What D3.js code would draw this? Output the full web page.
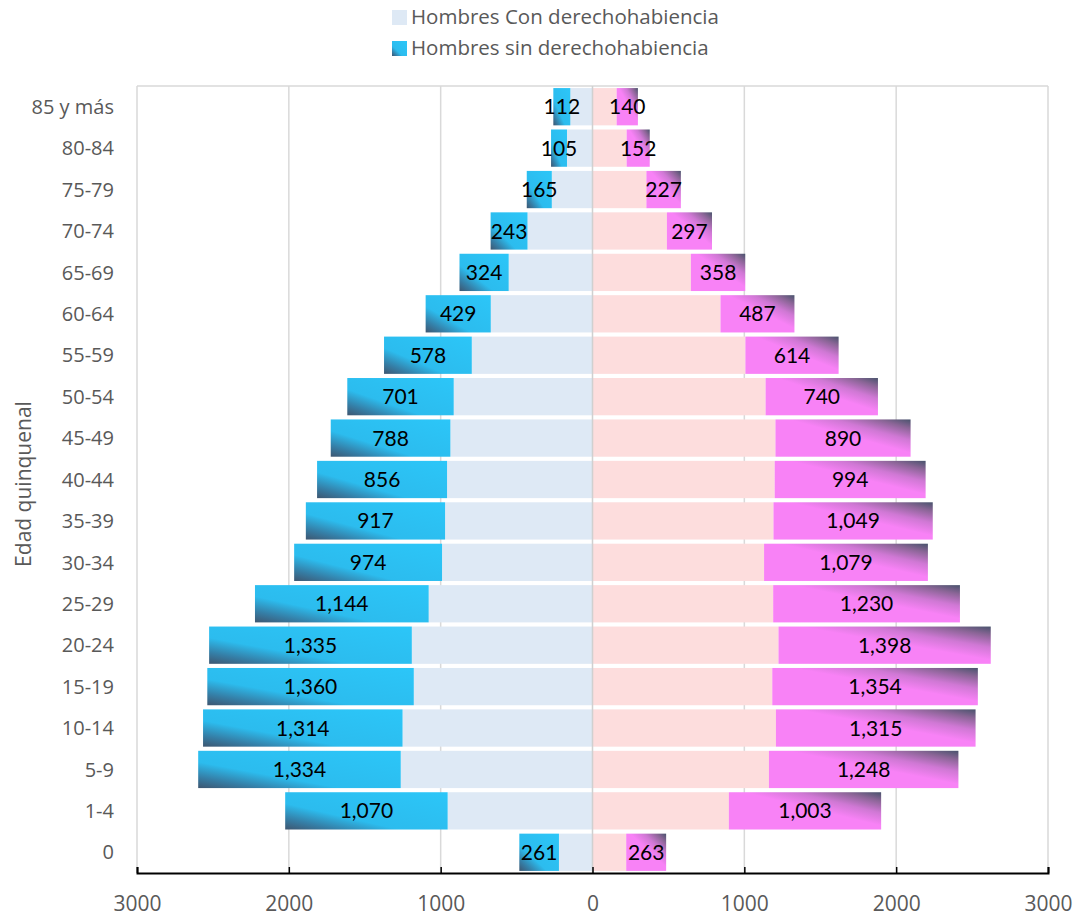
<!DOCTYPE html>
<html><head><meta charset="utf-8">
<script src="https://cdn.jsdelivr.net/npm/d3@7"></script>
<style>
html,body{margin:0;padding:0;background:#fff;}
svg{display:block;font-family:"Open Sans", sans-serif;}
</style></head>
<body><svg id="chart" width="1074" height="916"></svg>
<script>
const categories = ["85 y más","80-84","75-79","70-74","65-69","60-64","55-59","50-54","45-49","40-44","35-39","30-34","25-29","20-24","15-19","10-14","5-9","1-4","0"];
const hombresCon = [146,168,268,428,552,670,795,914,936,958,971,991,1079,1190,1177,1251,1263,954,221];
const hombresSin = [112,105,165,243,324,429,578,701,788,856,917,974,1144,1335,1360,1314,1334,1070,261];
const mujeresCon = [159,225,355,490,648,843,1007,1140,1205,1200,1192,1130,1190,1225,1184,1208,1162,898,222];
const mujeresSin = [140,152,227,297,358,487,614,740,890,994,1049,1079,1230,1398,1354,1315,1248,1003,263];
const xTicks = [-3000,-2000,-1000,0,1000,2000,3000];
const legendLabels = ["Hombres Con derechohabiencia","Hombres sin derechohabiencia"];
const yTitle = "Edad quinquenal";

const svg = d3.select("#chart");
const defs = svg.append("defs");
const gb = defs.append("linearGradient").attr("id","gBlue").attr("x1",0).attr("y1",1).attr("x2",1).attr("y2",0);
gb.append("stop").attr("offset",0).attr("stop-color","#3e5670");
gb.append("stop").attr("offset",0.15).attr("stop-color","#357ea6");
gb.append("stop").attr("offset",0.35).attr("stop-color","#2cbcee");
gb.append("stop").attr("offset",1).attr("stop-color","#2cc6f8");
const gp = defs.append("linearGradient").attr("id","gPink").attr("x1",1).attr("y1",0).attr("x2",0).attr("y2",1);
gp.append("stop").attr("offset",0).attr("stop-color","#48536c");
gp.append("stop").attr("offset",0.12).attr("stop-color","#8a6596");
gp.append("stop").attr("offset",0.28).attr("stop-color","#cf78d4");
gp.append("stop").attr("offset",0.45).attr("stop-color","#f882f6");
gp.append("stop").attr("offset",1).attr("stop-color","#f882f6");

const x = d3.scaleLinear().domain([-3000,3000]).range([137,1048]);
const y = d3.scaleBand().domain(categories).range([86,873]).paddingInner(0.1).paddingOuter(0.05);

// grid
svg.append("g").selectAll("line").data(xTicks.filter(d=>d!==0)).join("line")
  .attr("x1",d=>x(d)).attr("x2",d=>x(d)).attr("y1",86).attr("y2",873)
  .attr("stroke","#d9d9d9").attr("stroke-width",1.5);
svg.append("line").attr("x1",x(-3000)).attr("x2",x(3000)).attr("y1",86).attr("y2",86).attr("stroke","#d9d9d9").attr("stroke-width",1.5);

const rows = categories.map((c,i)=>({c,hc:hombresCon[i],hs:hombresSin[i],mc:mujeresCon[i],ms:mujeresSin[i]}));
const g = svg.append("g");
g.selectAll(".hc").data(rows).join("rect").attr("x",d=>x(-d.hc)).attr("width",d=>x(0)-x(-d.hc))
  .attr("y",d=>y(d.c)).attr("height",y.bandwidth()).attr("fill","#dee9f5");
g.selectAll(".hs").data(rows).join("rect").attr("x",d=>x(-d.hc-d.hs)).attr("width",d=>x(-d.hc)-x(-d.hc-d.hs))
  .attr("y",d=>y(d.c)).attr("height",y.bandwidth()).attr("fill","url(#gBlue)");
g.selectAll(".mc").data(rows).join("rect").attr("x",x(0)).attr("width",d=>x(d.mc)-x(0))
  .attr("y",d=>y(d.c)).attr("height",y.bandwidth()).attr("fill","#fddddd");
g.selectAll(".ms").data(rows).join("rect").attr("x",d=>x(d.mc)).attr("width",d=>x(d.mc+d.ms)-x(d.mc))
  .attr("y",d=>y(d.c)).attr("height",y.bandwidth()).attr("fill","url(#gPink)");

// center line
svg.append("line").attr("x1",x(0)).attr("x2",x(0)).attr("y1",86).attr("y2",873).attr("stroke","#d0d0d0").attr("stroke-width",1.5);

const fmt = d3.format(",");
g.selectAll(".lh").data(rows).join("text").attr("x",d=>x(-d.hc-d.hs/2)).attr("y",d=>y(d.c)+y.bandwidth()/2)
  .attr("dy","0.36em").attr("text-anchor","middle").attr("font-family","Lato, sans-serif").attr("font-size",21).attr("fill","#000").text(d=>fmt(d.hs));
g.selectAll(".lm").data(rows).join("text").attr("x",d=>x(d.mc+d.ms/2)).attr("y",d=>y(d.c)+y.bandwidth()/2)
  .attr("dy","0.36em").attr("text-anchor","middle").attr("font-family","Lato, sans-serif").attr("font-size",21).attr("fill","#000").text(d=>fmt(d.ms));

// x axis
const xa = svg.append("g").attr("transform","translate(0,873)")
  .call(d3.axisBottom(x).tickValues(xTicks).tickFormat(d=>Math.abs(d)).tickSizeInner(-6).tickSizeOuter(-6).tickPadding(23));
xa.select(".domain").attr("stroke","#000").attr("stroke-width",2);
xa.selectAll(".tick line").attr("stroke","#000").attr("stroke-width",1.5);
xa.selectAll("text").attr("font-size",21).attr("fill","#595959").attr("font-family","'Open Sans', sans-serif");

// y labels
svg.append("g").selectAll("text").data(categories).join("text")
  .attr("x",114).attr("y",d=>y(d)+y.bandwidth()/2).attr("dy","0.36em").attr("text-anchor","end")
  .attr("font-size",20).attr("fill","#595959").text(d=>d);

svg.append("text").attr("transform","translate(31,484) rotate(-90)").attr("text-anchor","middle")
  .attr("font-size",21).attr("fill","#595959").text(yTitle);

// legend
const lg = svg.append("g");
const fills = ["#dee9f5","url(#gBlue)"];
legendLabels.forEach((t,i)=>{
  lg.append("rect").attr("x",392).attr("y",10+i*31).attr("width",15).attr("height",15).attr("fill",fills[i]);
  lg.append("text").attr("x",411).attr("y",17+i*31).attr("dy","0.36em").attr("font-size",20.5).attr("fill","#595959").text(t);
});
</script></body></html>
